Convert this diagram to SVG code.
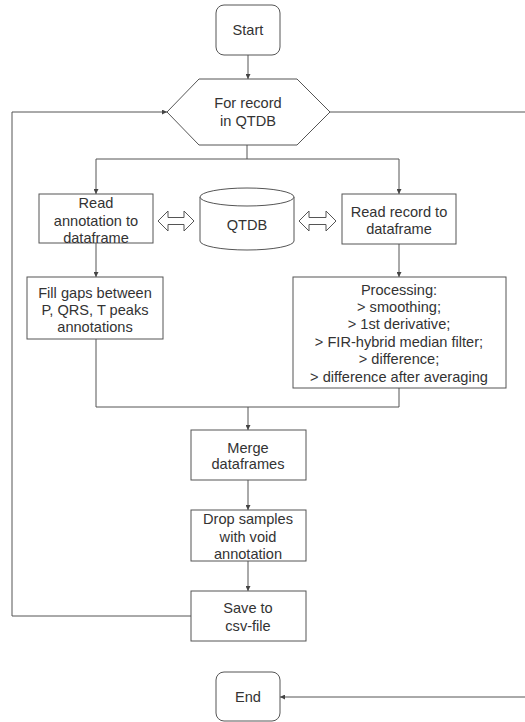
<svg xmlns="http://www.w3.org/2000/svg" width="525" height="722" viewBox="0 0 525 722">
<defs>
<style>
.n{fill:#fff;stroke:#555;stroke-width:1}
.t{font-family:"Liberation Sans",Arial,sans-serif;font-size:14.6px;fill:#333;text-anchor:middle}
.c{fill:none;stroke:#555;stroke-width:1}
</style>
<marker id="ah" viewBox="0 0 6 6" refX="6" refY="3" markerWidth="5" markerHeight="5" orient="auto" markerUnits="userSpaceOnUse">
<path d="M0,0 L6,3 L0,6 Z" fill="#444"/>
</marker>
</defs>
<rect width="525" height="722" fill="#fff"/>
<g id="connectors">
<path class="c" d="M248,55 V79" marker-end="url(#ah)"/>
<path class="c" d="M330,112 H525"/>
<path class="c" d="M247,145 V159 M96,159 H399"/>
<path class="c" d="M96,159 V194" marker-end="url(#ah)"/>
<path class="c" d="M399,159 V194" marker-end="url(#ah)"/>
<path class="c" d="M96,243 V277" marker-end="url(#ah)"/>
<path class="c" d="M399,244 V277" marker-end="url(#ah)"/>
<path class="c" d="M96,339 V407 H399 V388"/>
<path class="c" d="M248,407 V430" marker-end="url(#ah)"/>
<path class="c" d="M248,480 V510" marker-end="url(#ah)"/>
<path class="c" d="M248,561 V591" marker-end="url(#ah)"/>
<path class="c" d="M191,616 H12 V112 H167" marker-end="url(#ah)"/>
<path class="c" d="M525,697 H280" marker-end="url(#ah)"/>
<polygon class="n" points="158,221 168,211 168,217.5 184,217.5 184,211 194,221 184,231 184,224.5 168,224.5 168,231"/>
<polygon class="n" points="299,221 309,211 309,217.5 326,217.5 326,211 336,221 326,231 326,224.5 309,224.5 309,231"/>
</g>
<g id="start">
<rect class="n" x="216" y="5" width="64" height="50" rx="8"/>
<text class="t" x="248" y="35">Start</text>
</g>
<g id="loop">
<polygon class="n" points="167,112 199,79 297,79 330,112 297,145 199,145"/>
<text class="t" x="248" y="108">For record</text>
<text class="t" x="248" y="126">in QTDB</text>
</g>
<g id="read-annotation">
<rect class="n" x="39" y="194" width="114" height="49"/>
<text class="t" x="96" y="208">Read</text>
<text class="t" x="96" y="226">annotation to</text>
<text class="t" x="96" y="243">dataframe</text>
</g>
<g id="qtdb">
<path class="n" d="M200,197 V241 A47,9 0 0 0 294,241 V197"/>
<ellipse class="n" cx="247" cy="197" rx="47" ry="9"/>
<text class="t" x="247" y="230">QTDB</text>
</g>
<g id="read-record">
<rect class="n" x="342" y="194" width="114" height="50"/>
<text class="t" x="399" y="217">Read record to</text>
<text class="t" x="399" y="234">dataframe</text>
</g>
<g id="fill-gaps">
<rect class="n" x="27" y="277" width="136" height="62"/>
<text class="t" x="95" y="298">Fill gaps between</text>
<text class="t" x="95" y="315">P, QRS, T peaks</text>
<text class="t" x="95" y="332">annotations</text>
</g>
<g id="processing">
<rect class="n" x="293" y="277" width="213" height="111"/>
<text class="t" x="399" y="295">Processing:</text>
<text class="t" x="399" y="312">&gt; smoothing;</text>
<text class="t" x="399" y="329">&gt; 1st derivative;</text>
<text class="t" x="399" y="347">&gt; FIR-hybrid median filter;</text>
<text class="t" x="399" y="364">&gt; difference;</text>
<text class="t" x="399" y="382">&gt; difference after averaging</text>
</g>
<g id="merge">
<rect class="n" x="191" y="430" width="115" height="50"/>
<text class="t" x="248" y="453">Merge</text>
<text class="t" x="248" y="469">dataframes</text>
</g>
<g id="drop">
<rect class="n" x="191" y="510" width="115" height="51"/>
<text class="t" x="248" y="524">Drop samples</text>
<text class="t" x="248" y="542">with void</text>
<text class="t" x="248" y="559">annotation</text>
</g>
<g id="save">
<rect class="n" x="191" y="591" width="115" height="50"/>
<text class="t" x="248" y="613">Save to</text>
<text class="t" x="248" y="631">csv-file</text>
</g>
<g id="end">
<rect class="n" x="216" y="672" width="64" height="49" rx="8"/>
<text class="t" x="248" y="702">End</text>
</g>
</svg>
